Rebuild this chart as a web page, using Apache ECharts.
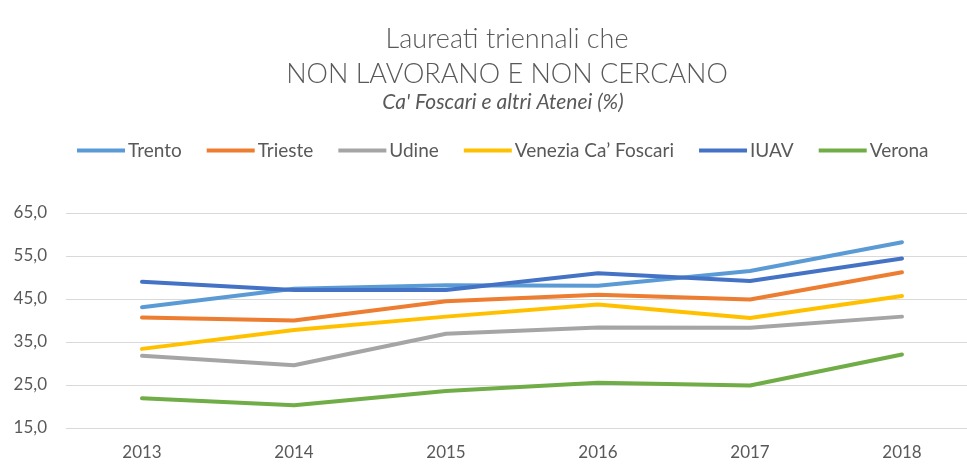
<!DOCTYPE html>
<html>
<head>
<meta charset="utf-8">
<script src="https://cdn.jsdelivr.net/npm/echarts@6/dist/echarts.min.js"></script>
<style>
  html, body { margin: 0; padding: 0; background: #fff; }
  #chart { width: 967px; height: 465px; }
</style>
</head>
<body>
<div id="chart"></div>
<script>
var anni = ['2013', '2014', '2015', '2016', '2017', '2018'];

var trento  = [43.1, 47.4, 48.2, 48.1, 51.5, 58.2];
var trieste = [40.7, 40.0, 44.5, 46.0, 44.9, 51.2];
var udine   = [31.8, 29.6, 36.9, 38.4, 38.3, 40.9];
var venezia = [33.4, 37.8, 40.9, 43.7, 40.6, 45.7];
var iuav    = [49.0, 47.1, 47.1, 51.0, 49.2, 54.4];
var verona  = [21.9, 20.3, 23.6, 25.5, 24.9, 32.1];

var myChart = echarts.init(document.getElementById('chart'));

function serie(nome, dati, colore) {
    return {
        name: nome,
        type: 'line',
        data: dati,
        symbol: 'none',
        lineStyle: { width: 4, color: colore, cap: 'round', join: 'round' },
        itemStyle: { color: colore }
    };
}

var option = {
    animation: false,
    textStyle: { fontFamily: 'Lato, sans-serif' },
    title: [{
        text: 'Laureati triennali che\nNON LAVORANO E NON CERCANO',
        left: 502,
        top: 17,
        textAlign: 'center',
        textStyle: {
            fontSize: 27,
            fontWeight: 300,
            color: '#595959',
            lineHeight: 35,
            align: 'center'
        }
    }, {
        text: "Ca' Foscari e altri Atenei (%)",
        left: 498,
        top: 87,
        textAlign: 'center',
        textStyle: {
            fontSize: 21,
            fontWeight: 'normal',
            fontStyle: 'italic',
            color: '#595959'
        }
    }],
    legend: {
        left: 72,
        top: 136,
        icon: 'rect',
        itemWidth: 48,
        itemHeight: 4,
        itemGap: 25,
        textStyle: { fontSize: 19, color: '#595959', padding: [0, 0, 0, -2] },
        data: ['Trento', 'Trieste', 'Udine', 'Venezia Ca\u2019 Foscari', 'IUAV', 'Verona']
    },
    grid: {
        left: 66,
        top: 213,
        width: 912,
        bottom: 37,
        outerBoundsMode: 'none'
    },
    xAxis: {
        type: 'category',
        data: anni,
        boundaryGap: true,
        axisLine: { show: false },
        axisTick: { show: false },
        axisLabel: { fontSize: 17, color: '#595959', margin: 16 }
    },
    yAxis: {
        type: 'value',
        min: 15,
        max: 65,
        interval: 10,
        axisLine: { show: false },
        axisTick: { show: false },
        axisLabel: {
            fontSize: 17,
            color: '#595959',
            margin: 19,
            formatter: function (v) { return v.toFixed(1).replace('.', ','); }
        },
        splitLine: { lineStyle: { color: '#d9d9d9', width: 1 } }
    },
    series: [
        serie('Trento', trento, '#5B9BD5'),
        serie('Trieste', trieste, '#ED7D31'),
        serie('Udine', udine, '#A5A5A5'),
        serie('Venezia Ca\u2019 Foscari', venezia, '#FFC000'),
        serie('IUAV', iuav, '#4472C4'),
        serie('Verona', verona, '#70AD47')
    ]
};

myChart.setOption(option);
</script>
</body>
</html>
